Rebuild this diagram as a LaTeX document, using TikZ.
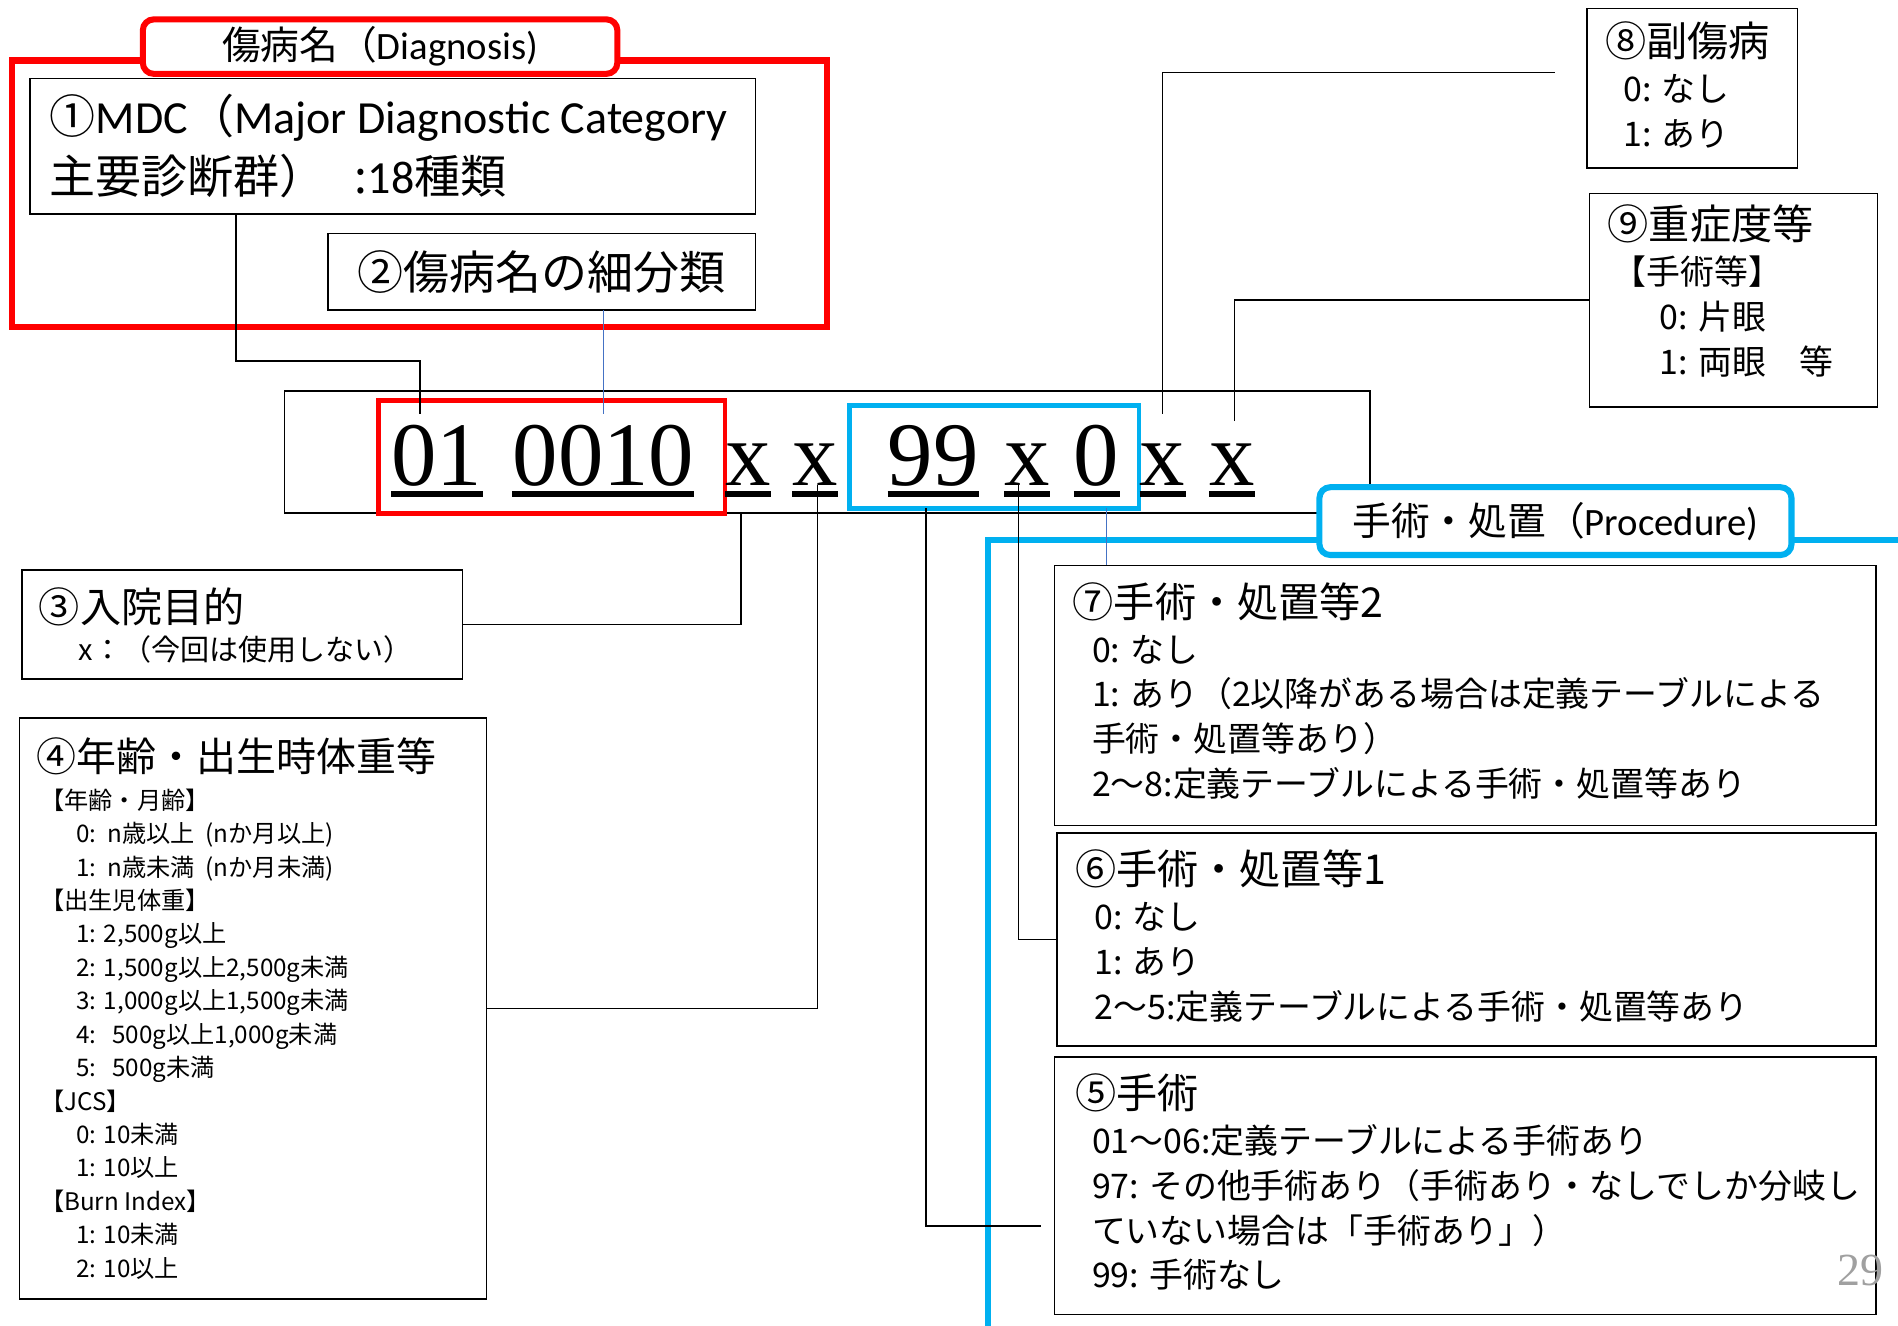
\documentclass[tikz,border=0pt]{standalone}
\usepackage{fontspec}
\setmainfont{Noto Sans CJK JP}
\newfontfamily\codefont{Liberation Serif}
\newfontfamily\latfont{Carlito}
\definecolor{dgred}{RGB}{255,0,0}
\definecolor{prcyan}{RGB}{0,176,240}
\definecolor{lnblue}{RGB}{68,114,196}
\definecolor{pagegray}{RGB}{160,160,160}
\newcommand\fs[2]{\fontsize{#1}{#2}\selectfont}
\tikzset{
  box/.style={draw, line width=1.3pt, anchor=north west, inner sep=0pt, outer sep=0pt},
  grpframe/.style={draw=#1, line width=5pt, anchor=north west, inner sep=0pt, outer sep=0pt},
  grptab/.style={draw=#1, line width=5pt, rounded corners=9pt, fill=white,
    inner sep=0pt, outer sep=0pt, font=\fs{32}{32}},
  txt/.style={anchor=base west, inner sep=0pt, align=left},
  tok/.style={anchor=base, inner sep=0pt, font=\codefont\fs{75}{75}},
  conn/.style={line width=1.3pt},
  bconn/.style={draw=lnblue, line width=1.3pt}
}
\begin{document}
\begin{tikzpicture}[x=1pt, y=-1pt]
  \useasboundingbox (0,0) rectangle (1568,1095);

  \node[grpframe=dgred, minimum width=673pt, minimum height=220pt] (dgframe) at (10,50) {};
  \node[grptab=dgred, minimum width=392pt, minimum height=45pt] (dgtab) at (314,38.5) {傷病名（{\latfont Diagnosis)}};
  \node[box, minimum width=599pt, minimum height=112pt] (mdc) at (25,65) {};
  \node[txt, font=\fs{38}{50}] (mdctxt) at (41,160) {①{\latfont MDC}（{\latfont Major Diagnostic Category}\\主要診断群）\hspace{24pt}:{\latfont 18}種類};
  \node[box, minimum width=353pt, minimum height=63pt, font=\fs{38}{38}] (sub) at (271,193) {②傷病名の細分類};

  \node[box, minimum width=897pt, minimum height=101pt] (codebox) at (235,323) {};
  \draw[prcyan, line width=5pt] (816,1100) |- (1575,446);
  \node[grptab=prcyan, minimum width=390pt, minimum height=56pt] (prtab) at (1285,430.5) {手術・処置（{\latfont Procedure)}};
  \node[box, draw=dgred, line width=4pt, minimum width=286pt, minimum height=93pt] (dgcode) at (313,331) {};
  \node[box, draw=prcyan, line width=4pt, minimum width=239pt, minimum height=85pt] (prcode) at (702,335) {};
  \foreach \n/\x/\t in {c1/361/01, c2/498.5/0010, c3/618/x, c4/673.5/x, c5/771/99,
      c6/848.5/x, c7/906/0, c8/960.5/x, c9/1018/x} {
    \node[tok] (\n) at (\x,401) {\t};
    \draw[line width=5pt] ([yshift=-7pt]\n.base west) -- ([yshift=-7pt]\n.base east);
  }

  \node[box, minimum width=364pt, minimum height=90pt] (adm) at (18,471) {};
  \node[txt, font=\fs{24}{32}] (admtxt) at (32,546) {{\fs{34}{34}③入院目的}\\\hspace*{33pt}x：（今回は使用しない）};

  \node[box, minimum width=386pt, minimum height=480pt] (age) at (16,593) {};
  \node[txt, font=\fs{20}{27.6}] (agetxt) at (30,1055) {{\fs{33}{33}④年齢・出生時体重等}\\[4pt]
    \hspace*{3pt}【年齢・月齢】\\
    \hspace*{33pt}0:~~n歳以上~~(nか月以上)\\
    \hspace*{33pt}1:~~n歳未満~~(nか月未満)\\
    \hspace*{3pt}【出生児体重】\\
    \hspace*{33pt}1: 2,500g以上\\
    \hspace*{33pt}2: 1,500g以上2,500g未満\\
    \hspace*{33pt}3: 1,000g以上1,500g未満\\
    \hspace*{33pt}4:\hspace{13pt}500g以上1,000g未満\\
    \hspace*{33pt}5:\hspace{13pt}500g未満\\
    \hspace*{3pt}【JCS】\\
    \hspace*{33pt}0: 10未満\\
    \hspace*{33pt}1: 10以上\\
    \hspace*{3pt}【Burn Index】\\
    \hspace*{33pt}1: 10未満\\
    \hspace*{33pt}2: 10以上};

  \node[box, minimum width=174pt, minimum height=132pt] (sec) at (1311,7) {};
  \node[txt, font=\fs{28}{37}] (sectxt) at (1326,121) {{\fs{34}{34}⑧副傷病}\\
    \hspace*{15pt}0: なし\\
    \hspace*{15pt}1: あり};

  \node[box, minimum width=238pt, minimum height=176pt] (sev) at (1313,160) {};
  \node[txt, font=\fs{28}{37}] (sevtxt) at (1328,309) {{\fs{34}{34}⑨重症度等}\\
    \hspace*{4pt}【手術等】\\
    \hspace*{43pt}0: 片眼\\
    \hspace*{43pt}1: 両眼　等};

  \node[box, minimum width=679pt, minimum height=215pt] (p2) at (871,467) {};
  \node[txt, font=\fs{28}{37}] (p2txt) at (886,658) {{\fs{34}{34}⑦手術・処置等2}\\
    \hspace*{16pt}0: なし\\
    \hspace*{16pt}1: あり（2以降がある場合は定義テーブルによる\\
    \hspace*{16pt}手術・処置等あり）\\
    \hspace*{16pt}2～8:定義テーブルによる手術・処置等あり};

  \node[box, minimum width=677pt, minimum height=176pt] (p1) at (873,688) {};
  \node[txt, font=\fs{28}{37}] (p1txt) at (888,842) {{\fs{34}{34}⑥手術・処置等1}\\
    \hspace*{16pt}0: なし\\
    \hspace*{16pt}1: あり\\
    \hspace*{16pt}2～5:定義テーブルによる手術・処置等あり};

  \node[box, minimum width=679pt, minimum height=213pt] (op) at (871,873) {};
  \node[txt, font=\fs{28}{37}] (optxt) at (888,1064) {{\fs{34}{34}⑤手術}\\
    \hspace*{14pt}01～06:定義テーブルによる手術あり\\
    \hspace*{14pt}97: その他手術あり（手術あり・なしでしか分岐し\\
    \hspace*{14pt}ていない場合は「手術あり」）\\
    \hspace*{14pt}99: 手術なし};

  \coordinate (e5) at (860,1013);
  \coordinate (e8) at (1285,60);
  \draw[conn] ([xshift=170pt]mdc.south west) -- ++(0,121) -| ([xshift=-14pt,yshift=9pt]c1.north);
  \draw[bconn] (sub.south -| c2.north) -- ([yshift=9pt]c2.north);
  \draw[conn] ([xshift=-6pt]codebox.south -| c3) |- (adm.east);
  \draw[conn] ([xshift=2pt]c4.base) |- (age.east);
  \draw[conn] ([xshift=-6pt]prcode.south -| c5) |- (e5);
  \draw[conn] ([xshift=-7pt]c6.base) |- (p1.west);
  \draw[bconn] ([xshift=8pt]prcode.south -| c7) -- ([xshift=8pt]p2.north -| c7);
  \draw[conn] ([yshift=-19pt]codebox.north -| c8) |- (e8);
  \draw[conn] ([xshift=2pt,yshift=-25pt]codebox.north -| c9) |- (sev.west);

  \node[anchor=base east, inner sep=0pt, text=pagegray, font=\codefont\fs{38}{38}] (pgno) at (1556,1062) {29};
\end{tikzpicture}
\end{document}
